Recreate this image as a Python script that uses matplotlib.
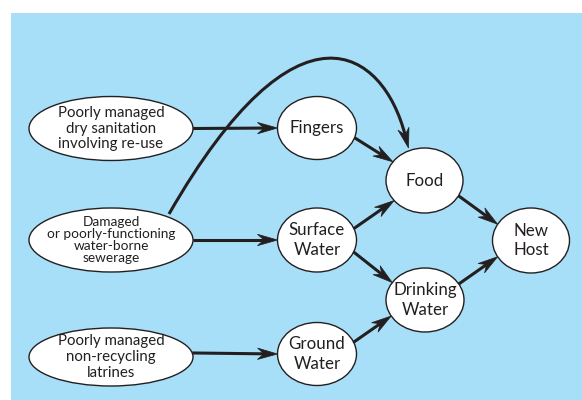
import numpy as np
import matplotlib
matplotlib.use("Agg")
import matplotlib.pyplot as plt
from matplotlib.patches import Ellipse, Rectangle, Polygon, PathPatch
from matplotlib.path import Path

# ---- data ----
node_ids = ["s1", "s2", "s3", "fingers", "food", "surface", "drinking", "ground", "host"]
node_labels = [
    "Poorly managed\ndry sanitation\ninvolving re-use",
    "Damaged\nor poorly-functioning\nwater-borne\nsewerage",
    "Poorly managed\nnon-recycling\nlatrines",
    "Fingers",
    "Food",
    "Surface\nWater",
    "Drinking\nWater",
    "Ground\nWater",
    "New\nHost",
]
edge_src = ["s1", "s2", "s3", "fingers", "surface", "surface", "ground", "food", "drinking"]
edge_dst = ["fingers", "surface", "ground", "food", "food", "drinking", "drinking", "host", "host"]
curve_src, curve_dst = "s2", "food"

# ---- layout (pixel coordinates, y downward) ----
W, H = 582, 400
geom = {  # cx, cy, half-width, half-height
    "s1": (111, 128.5, 82, 32),
    "s2": (111, 240, 82, 32),
    "s3": (111, 357, 82, 29),
    "fingers": (317, 128, 39.5, 31.5),
    "food": (424.5, 180.5, 38.5, 32.5),
    "surface": (317, 240, 39.5, 32),
    "drinking": (425, 300, 39, 32),
    "ground": (317, 354, 39.5, 31.5),
    "host": (531, 240.5, 38.5, 32.5),
}
fsize = {"s1": 10.8, "s2": 9.8, "s3": 10.8}
lspace = {"s1": 1.17, "s2": 1.03, "s3": 1.17}
edge_angles = [(0, 180), (0, 180), (-8, 180), (18, 215), (-21, 142),
               (22, 213), (-22, 150), (28, 210), (-30, 150)]

TXT = "#231f20"
BG = "#a8dff8"

plt.rcParams["font.family"] = ["Lato", "DejaVu Sans"]
fig = plt.figure(figsize=(W / 100, H / 100), dpi=100)
ax = fig.add_axes([0, 0, 1, 1])
ax.set_xlim(0, W)
ax.set_ylim(H, 0)
ax.axis("off")

ax.add_patch(Rectangle((11, 13), W - 11, H - 13, facecolor=BG, edgecolor="none", zorder=0))


def pt(node, ang):
    cx, cy, a, b = geom[node]
    t = np.deg2rad(ang)
    return np.array([cx + a * np.cos(t), cy + b * np.sin(t)])


def head(tip, direction, L=20, hw=5.7, notch=6.5):
    d = direction / np.linalg.norm(direction)
    n = np.array([-d[1], d[0]])
    back = tip - d * L
    poly = [tip, back + n * hw, tip - d * (L - notch), back - n * hw]
    ax.add_patch(Polygon(poly, closed=True, facecolor=TXT, edgecolor=TXT, lw=0.5, zorder=3))
    return tip - d * (L - notch)


LW = 2.2
for s, d, (a0, a1) in zip(edge_src, edge_dst, edge_angles):
    p0 = pt(s, a0)
    p1 = pt(d, a1)
    base = head(p1, p1 - p0)
    ax.plot([p0[0], base[0]], [p0[1], base[1]], color=TXT, lw=LW, solid_capstyle="butt", zorder=2)

# curved edge (cubic Bezier)
c0 = np.array([169, 214.0])
c1 = np.array([298, -11.0])
c2 = np.array([383, 50.0])
c3 = np.array([408.5, 148.0])
base = head(c3, c3 - c2)
verts = [c0, c1, c2, base]
ax.add_patch(PathPatch(Path(verts, [Path.MOVETO, Path.CURVE4, Path.CURVE4, Path.CURVE4]),
                       facecolor="none", edgecolor=TXT, lw=LW, zorder=2))

for nid, lab in zip(node_ids, node_labels):
    cx, cy, a, b = geom[nid]
    ax.add_patch(Ellipse((cx, cy), 2 * a, 2 * b, facecolor="white", edgecolor=TXT, lw=1.0, zorder=4))
    ax.text(cx, cy, lab, ha="center", va="center", multialignment="center",
            fontsize=fsize.get(nid, 12.2), linespacing=lspace.get(nid, 1.25),
            color=TXT, zorder=5)

fig.savefig("out.png", dpi=100)
